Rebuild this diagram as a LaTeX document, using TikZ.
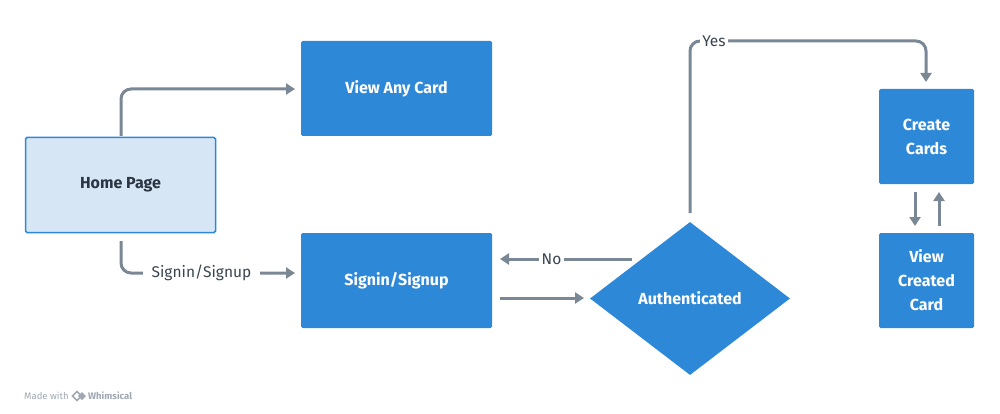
\documentclass[tikz,border=0pt]{standalone}
\usepackage{fontspec}
\setmainfont{Fira Sans}
\usetikzlibrary{arrows.meta,shapes.geometric}
\definecolor{boxblue}{HTML}{2E88D8}
\definecolor{lightblue}{HTML}{D6E6F5}
\definecolor{linegray}{HTML}{7A8794}
\definecolor{darktext}{HTML}{2B3440}
\definecolor{labeltext}{HTML}{3A4450}
\definecolor{logogray}{HTML}{A0A8B2}
\tikzset{
  card/.style={rectangle, fill=boxblue, rounded corners=1.5pt, minimum width=191pt, minimum height=95pt, inner sep=0pt, text=white, font=\fontsize{16}{24}\selectfont\bfseries, align=center},
  smallcard/.style={card, minimum width=95pt},
  homebox/.style={rectangle, fill=lightblue, draw=boxblue, line width=1.5pt, rounded corners=1.5pt, minimum width=190pt, minimum height=95pt, inner sep=0pt, text=darktext, font=\fontsize{16}{24}\selectfont\bfseries},
  decision/.style={diamond, fill=boxblue, minimum width=200pt, minimum height=153pt, inner sep=0pt, text=white, font=\fontsize{16}{24}\selectfont\bfseries},
  conn/.style={draw=linegray, line width=3pt, rounded corners=10pt, -{Triangle[length=9pt,width=11pt]}},
  lbl/.style={fill=white, inner ysep=2pt, text=labeltext, font=\fontsize{15.5}{16}\selectfont},
}
\begin{document}
\begin{tikzpicture}[x=1pt,y=-1pt]
\useasboundingbox (0,0) rectangle (1000,414);
\node[homebox] (home) at (120.5,185) {Home Page};
\node[card] (view) at (396.5,88.5) {View Any Card};
\node[card] (sign) at (396.5,280.5) {Signin/Signup};
\node[decision] (auth) at (690,298.5) {Authenticated};
\node[smallcard] (create) at (926.5,136.5) {Create\\Cards};
\node[smallcard] (viewc) at (926.5,280.5) {View\\Created\\Card};
\coordinate (hTop) at (121,136);
\coordinate (vIn) at (295,89);
\coordinate (hBot) at (121,241);
\coordinate (sIn) at (295,273);
\coordinate (aTop) at (690,213);
\coordinate (aNo) at (632,259);
\coordinate (sNo) at (500,259);
\coordinate (sOut) at (500,298);
\coordinate (aIn) at (584,298);
\coordinate (cIn) at (926,82);
\draw[conn] (hTop) |- (vIn);
\draw[conn] (hBot) |- (sIn);
\node[lbl, inner xsep=8.5pt] (lsign) at (201.5,273) {Signin/Signup};
\draw[conn] (aNo) -- (sNo);
\node[lbl, inner xsep=2.5pt] (lno) at (551.5,259) {No};
\draw[conn] (sOut) -- (aIn);
\draw[conn] (aTop) |- (926,41) -- (cIn);
\node[lbl, inner xsep=2.5pt] (lyes) at (714,41) {Yes};
\draw[conn, rounded corners=0pt] (915,192) -- (915,226);
\draw[conn, rounded corners=0pt] (939,226) -- (939,192);
\node[text=logogray, font=\fontsize{9.5}{10}\selectfont, anchor=west, inner sep=0pt] (made) at (24,396) {Made with};
\node[text=logogray, font=\fontsize{9.5}{10}\selectfont\bfseries, anchor=west, inner sep=0pt] (whim) at (88,396) {Whimsical};
\draw[logogray, line width=1.6pt] (72.5,396) -- (77,391.5) -- (81.5,396) -- (77,400.5) -- cycle;
\fill[logogray] (78,396) -- (82,392) -- (86,396) -- (82,400) -- cycle;
\end{tikzpicture}
\end{document}
